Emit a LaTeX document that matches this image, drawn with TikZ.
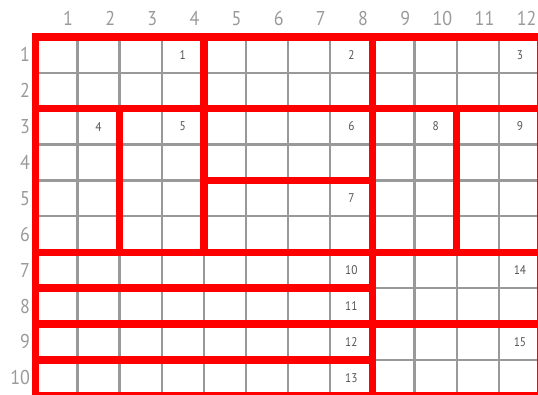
\documentclass[tikz,border=0pt]{standalone}
\usepackage{fontspec}
\setmainfont{PT Sans}[FakeStretch=0.9]
\usetikzlibrary{calc, positioning}
\definecolor{gridgray}{HTML}{999999}
\definecolor{labelgray}{HTML}{9A9A9A}
\definecolor{numgray}{HTML}{555555}
\definecolor{areared}{HTML}{FF0000}

\begin{document}
\begin{tikzpicture}[x=1cm, y=-0.852cm,
    gridline/.style={gridgray, line width=1.5pt},
    arealine/.style={areared, line width=5pt},
    axislabel/.style={labelgray, font=\fontsize{13.5}{14}\selectfont, inner sep=0pt},
    areanum/.style={numgray, font=\fontsize{8.5}{10}\selectfont}]
    \def\ncol{12}
    \def\nrow{10}
\useasboundingbox (-0.838,-1.025) rectangle (11.929,9.95);
% grid
\foreach \x in {1,...,11} {
  \draw[gridline] (\x,0) -- (\x,\nrow);
}
\foreach \y in {1,...,9} {
  \draw[gridline] (0,\y) -- (\ncol,\y);
}
% column and row numbers
\foreach \x in {1,...,12} {
  \node[axislabel, anchor=east] (col\x) at (\x-0.1,-0.5) {\x};
}
\foreach \y in {1,...,10} {
  \node[axislabel, anchor=east] (row\y) at (-0.12,\y-0.5) {\y};
}
% areas
\draw[arealine] (0,0) rectangle (\ncol,\nrow);
\foreach \y in {2,6,8} {
  \draw[arealine] (0,\y) -- (\ncol,\y);
}
\foreach \y in {7,9} {
  \draw[arealine] (0,\y) -- (8,\y);
}
\draw[arealine] (4,4) -- (8,4);
\draw[arealine] (4,0) -- (4,6);
\draw[arealine] (8,0) -- (8,\nrow);
\draw[arealine] (2,2) -- (2,6);
\draw[arealine] (10,2) -- (10,6);
% area numbers
\foreach \n/\c/\r in {1/4/1, 2/8/1, 3/12/1, 4/2/3, 5/4/3, 6/8/3, 7/8/5, 8/10/3,
    9/12/3, 10/8/7, 11/8/8, 12/8/9, 13/8/10, 14/12/7, 15/12/9} {
  \node[areanum] (area\n) at (\c-0.5,\r-0.5) {\n};
}
\end{tikzpicture}
\end{document}
